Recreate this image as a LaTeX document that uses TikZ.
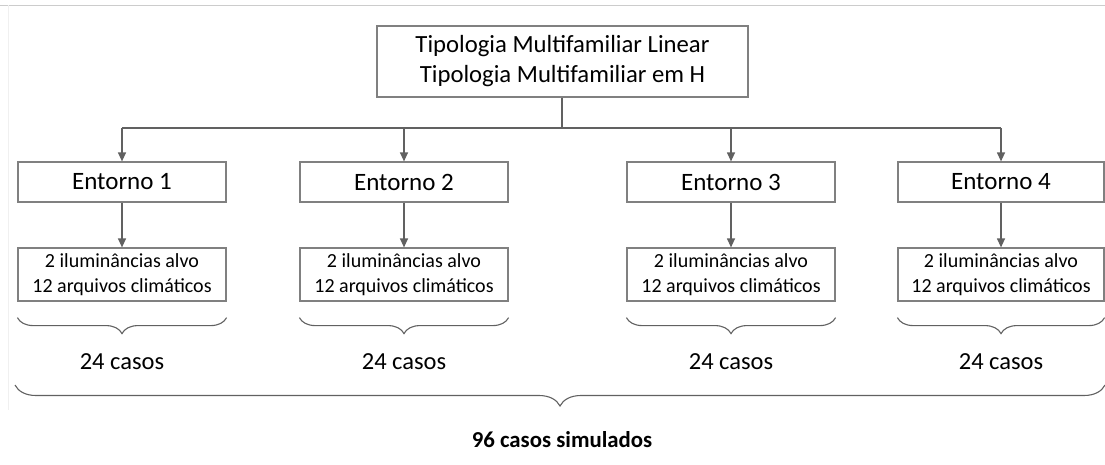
\documentclass[tikz,border=0pt]{standalone}
\usepackage{fontspec}
\setmainfont{Carlito}
\usetikzlibrary{arrows.meta,decorations.pathreplacing}
\definecolor{linegray}{gray}{0.38}
\definecolor{boxgray}{gray}{0.5}
\definecolor{framegray}{gray}{0.8}
\begin{document}
\begin{tikzpicture}[x=1pt,y=-1pt,
  box/.style={draw=boxgray,line width=1.2pt,inner sep=0pt,align=center,text=black},
  topbox/.style={box,minimum width=371pt,minimum height=71pt,font=\fontsize{24.7}{30}\selectfont},
  envbox/.style={box,minimum width=208pt,minimum height=40pt,font=\fontsize{25}{28}\selectfont},
  parbox/.style={box,minimum width=208pt,minimum height=53pt,font=\fontsize{20}{25}\selectfont},
  caselabel/.style={inner sep=0pt,font=\fontsize{24.5}{28}\selectfont},
  conn/.style={draw=linegray,line width=1.2pt},
  arr/.style={conn,-{Triangle[length=9pt,width=8pt]}},
  brc/.style={draw=linegray,line width=1.1pt,decorate,decoration={brace,mirror,amplitude=#1}},
]
\useasboundingbox (0,0) rectangle (1105,464);
\draw[framegray,line width=1pt] (0,5) -- (1105,5);
\draw[gray!12,line width=1pt] (8,5) -- (8,410);

\node[topbox] (top) at (562.5,61.5) {Tipologia Multifamiliar Linear\\Tipologia Multifamiliar em H};

\node[envbox] (e1) at (122,182) {Entorno 1};
\node[envbox] (e2) at (404,182) {Entorno 2};
\node[envbox] (e3) at (731,182) {Entorno 3};
\node[envbox,minimum width=206pt] (e4) at (1001,182) {Entorno 4};

\node[parbox] (p1) at (122,274.5) {2 iluminâncias alvo\\12 arquivos climáticos};
\node[parbox] (p2) at (404,274.5) {2 iluminâncias alvo\\12 arquivos climáticos};
\node[parbox] (p3) at (731,274.5) {2 iluminâncias alvo\\12 arquivos climáticos};
\node[parbox,minimum width=206pt] (p4) at (1001,274.5) {2 iluminâncias alvo\\12 arquivos climáticos};

\coordinate (hub) at (562,128);
\draw[conn] (top.south -| hub) -- (hub);
\draw[conn] (e1.north |- hub) -- (e4.north |- hub);
\foreach \i in {1,2,3,4} {
  \draw[arr] (e\i.north |- hub) -- (e\i.north);
  \draw[arr] (e\i.south) -- (p\i.north);
  \coordinate (bl\i) at ([yshift=-16pt]p\i.south west);
  \coordinate (br\i) at ([yshift=-16pt]p\i.south east);
  \draw[brc=16pt] (bl\i) -- (br\i);
  \node[caselabel] (c\i) at ([yshift=-60pt]p\i.south) {24 casos};
}

\coordinate (bigl) at (15,385);
\coordinate (bigr) at (1105,385);
\draw[brc=21pt] (bigl) -- (bigr);
\node[inner sep=0pt,font=\fontsize{22.8}{26}\selectfont\bfseries] (total) at (562,440) {96 casos simulados};
\end{tikzpicture}
\end{document}
